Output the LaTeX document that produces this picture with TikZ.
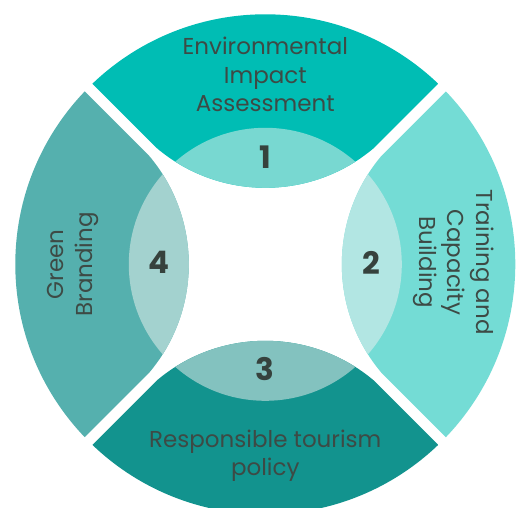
\documentclass[tikz,border=0pt]{standalone}
\usepackage{fontspec}
\setmainfont{Poppins}
\definecolor{segA}{HTML}{00BDB4}
\definecolor{lensA}{HTML}{78D8D1}
\definecolor{segB}{HTML}{74DCD5}
\definecolor{lensB}{HTML}{B2E6E3}
\definecolor{segC}{HTML}{12938E}
\definecolor{lensC}{HTML}{83C2BF}
\definecolor{segD}{HTML}{55B0AE}
\definecolor{lensD}{HTML}{A3D2CF}
\definecolor{txt}{HTML}{3D4A45}
\definecolor{numc}{HTML}{36423D}
\begin{document}
\begin{tikzpicture}[x=1pt,y=1pt,
  lbl/.style={font=\fontsize{23}{28.5}\selectfont, text=txt, align=center, inner sep=0pt},
  numlbl/.style={font=\fontsize{31}{36}\selectfont\bfseries, text=numc, inner sep=0pt}]
\useasboundingbox (-265.3,-243.7) rectangle (251.7,264.3);
\clip (-265.3,-243.7) rectangle (251.7,264.3);
\foreach \ang/\seg/\lens in {0/segA/lensA, 90/segD/lensD, 180/segC/lensC, 270/segB/lensB} {
  \begin{scope}[rotate=\ang]
    \begin{scope}
      \clip (0,0) circle (250);
      \fill[\seg]
        ([shift={(0,244.7)}]310.1:168.2) -- (320,327.7) -- (-320,327.7)
        -- ([shift={(0,244.7)}]229.9:168.2)
        arc[start angle=229.9, end angle=310.1, radius=168.2] -- cycle;
    \end{scope}
    \begin{scope}
      \clip (0,0) circle (136.5);
      \fill[\lens] (0,244.7) circle (168.2);
    \end{scope}
  \end{scope}
}
\node[lbl] (t1) at (0,189.7) {Environmental\\Impact\\Assessment};
\node[lbl, rotate=-90] (t2) at (188.2,2) {Training and\\Capacity\\Building};
\node[lbl] (t3) at (0,-191.2) {Responsible tourism\\policy};
\node[lbl, rotate=90] (t4) at (-192.3,0) {Green\\Branding};
\node[numlbl] (n1) at (0,107.3) {1};
\node[numlbl] (n2) at (105.7,1.8) {2};
\node[numlbl] (n3) at (0,-104.7) {3};
\node[numlbl] (n4) at (-106.8,1.8) {4};
\end{tikzpicture}
\end{document}
